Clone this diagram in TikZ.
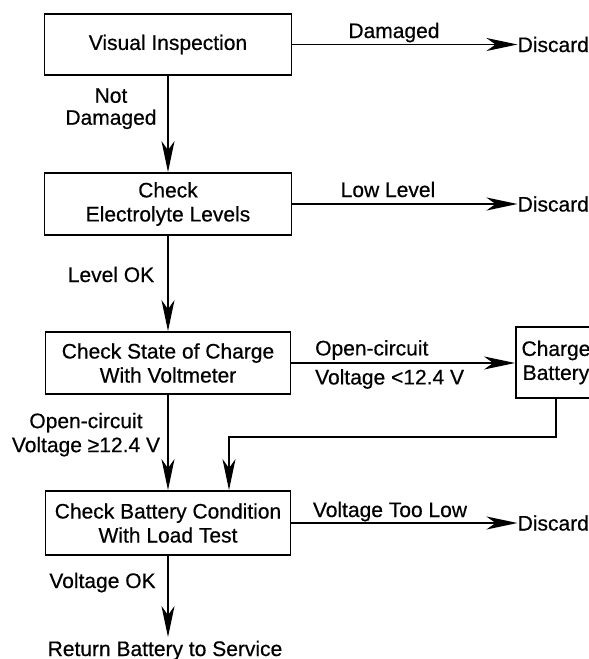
\documentclass[tikz,border=0pt]{standalone}
\usepackage{fontspec}
\setmainfont{Liberation Sans}[FakeBold=0.5]
\usetikzlibrary{arrows.meta,calc}
\begin{document}
\begin{tikzpicture}[x=1pt,y=-1pt,
  every node/.style={font=\fontsize{21}{24}\selectfont},
  box/.style={draw, line width=1.8pt, inner sep=0pt, align=center},
  lbl/.style={inner sep=0pt, align=center},
  arr/.style={line width=1.8pt, -{Stealth[length=31pt,width=13pt,inset=9pt]}}]
\useasboundingbox (0,0) rectangle (589,659);
\clip (0,0) rectangle (589,659);
% boxes
\node[box, minimum width=247pt, minimum height=61pt] (b1) at (168,44.5) {Visual Inspection};
\node[box, minimum width=247pt, minimum height=62pt] (b2) at (168,204) {Check\\Electrolyte Levels};
\node[box, minimum width=245pt, minimum height=62pt] (b3) at (168,363) {Check State of Charge\\With Voltmeter};
\node[box, minimum width=245pt, minimum height=64pt] (b4) at (168,523) {Check Battery Condition\\With Load Test};
\node[box, minimum width=80pt, minimum height=71pt] (ch) at (556,362.5) {Charge\\Battery};
% end texts
\node[lbl, anchor=west] (d1) at (517.5,44.5) {Discard};
\node[lbl, anchor=west] (d2) at (517.5,204) {Discard};
\node[lbl, anchor=west] (d3) at (517.5,523) {Discard};
\node[lbl, anchor=base] (ret) at (165,656) {Return Battery to Service};
% labels
\node[lbl, anchor=base] (l1) at (394,38) {Damaged};
\node[lbl, anchor=base] (l2) at (388,197) {Low Level};
\node[lbl, anchor=north west, align=left, font=\fontsize{21}{29}\selectfont] (l3) at (315,340) {Open-circuit\\Voltage <12.4 V};
\node[lbl, font=\fontsize{21}{22}\selectfont] (l4) at (111,108.7) {Not\\Damaged};
\node[lbl, anchor=base] (l5) at (111,282) {Level OK};
\node[lbl] (l6) at (86,434.7) {Open-circuit\\Voltage ≥12.4 V};
\node[lbl, anchor=base] (l7) at (102.5,588) {Voltage OK};
\node[lbl, anchor=base] (l8) at (390,517) {Voltage Too Low};
% connectors
\draw[arr] (b1.east) -- (b1.east -| d1.west);
\draw[arr] (b2.east) -- (b2.east -| d2.west);
\draw[arr] (b3.east) -- (b3.east -| ch.west);
\draw[arr] (b4.east) -- (b4.east -| d3.west);
\draw[arr] (b1.south) -- (b2.north);
\draw[arr] (b2.south) -- (b3.north);
\draw[arr] (b3.south) -- (b4.north);
\draw[arr] (b4.south) -- ($(b4.south |- ret.north)+(0,-3.5)$);
\coordinate (turn) at (229,437);
\draw[arr] (ch.south) |- (turn) -- (turn |- b4.north);
\end{tikzpicture}
\end{document}
